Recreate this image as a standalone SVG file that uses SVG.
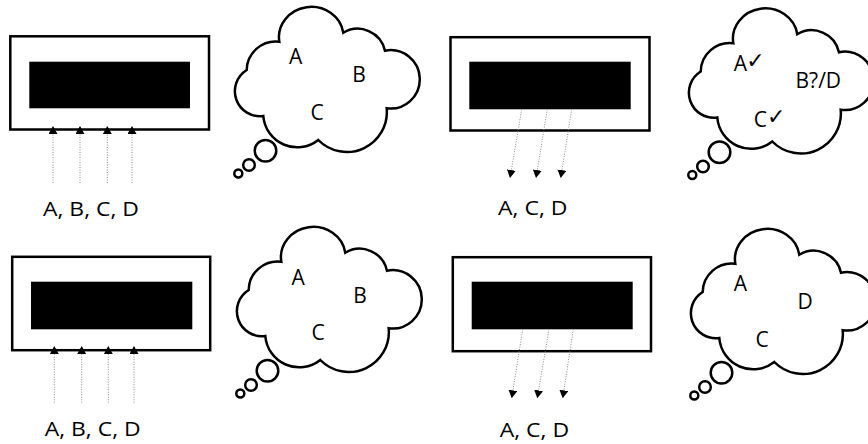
<svg xmlns="http://www.w3.org/2000/svg" xmlns:xlink="http://www.w3.org/1999/xlink" width="868" height="444" viewBox="0 0 868 444">
  <style>
    .frame { fill: #ffffff; stroke: #000000; stroke-width: 2.5; }
    .screen { fill: #000000; stroke: none; }
    .cloud { fill: #ffffff; stroke: #000000; stroke-width: 2.5; stroke-linejoin: miter; }
    .conn { fill: none; stroke: #8c8c8c; stroke-width: 1; stroke-dasharray: 1 1.5; marker-end: url(#ah); }
    .lbl { font-family: "Open Sans", "DejaVu Sans", sans-serif; font-size: 19.5px; fill: #000000; }
    .ct { font-family: "Open Sans", "DejaVu Sans", sans-serif; font-size: 21px; fill: #000000; }
    .chk { font-family: "DejaVu Sans", sans-serif; font-size: 22px; }
  </style>
  <defs>
    <marker id="ah" viewBox="0 0 8 9" refX="8" refY="4.5" markerWidth="8" markerHeight="9" markerUnits="userSpaceOnUse" orient="auto">
      <path d="M0,0 L8,4.5 L0,9 Z" fill="#000000"/>
    </marker>
    <g id="cloudShape">
      <path class="cloud" d="M279.3,41.7 A32,30 0 1 1 343.3,32.7 A28,28 0 0 1 385,50.7 A29.2,29.2 0 1 1 386.7,108.3 A40,40 0 0 1 318.3,140 A34,34 0 0 1 263.3,116 A25,25 0 0 1 246.7,70 A29,29 0 0 1 279.3,41.7 Z"/>
      <circle class="cloud" cx="265.5" cy="150.8" r="10.8"/>
      <circle class="cloud" cx="249" cy="165" r="5.8"/>
      <circle class="cloud" cx="238.3" cy="173.5" r="4"/>
    </g>
  </defs>
  <rect width="868" height="444" fill="#ffffff"/>

  <g id="box-tl">
    <rect class="frame" x="10.3" y="36.3" width="198.7" height="93.2"/>
    <rect class="screen" x="29.3" y="61.7" width="160.7" height="46.6"/>
  </g>
  <g id="cloud-tl">
    <use xlink:href="#cloudShape" href="#cloudShape"/>
    <text class="ct" x="289" y="64">A</text>
    <text class="ct" x="352.3" y="81.7">B</text>
    <text class="ct" x="310.5" y="120">C</text>
  </g>

  <g id="box-tr">
    <rect class="frame" x="450.5" y="37.2" width="199" height="93.3"/>
    <rect class="screen" x="469.3" y="61.7" width="161.4" height="47.6"/>
  </g>
  <g id="cloud-tr">
    <use xlink:href="#cloudShape" href="#cloudShape" transform="translate(454,1.5)"/>
    <text class="ct" x="733.7" y="70.7">A<tspan class="chk" x="746.3" y="67.5">✓</tspan></text>
    <text class="ct" x="795.5" y="88.3">B?/D</text>
    <text class="ct" x="753.8" y="127.3">C<tspan class="chk" x="767" y="124">✓</tspan></text>
  </g>

  <g id="box-bl">
    <rect class="frame" x="12.2" y="256.8" width="198" height="93.4"/>
    <rect class="screen" x="31" y="281.7" width="161.3" height="47.6"/>
  </g>
  <g id="cloud-bl">
    <use xlink:href="#cloudShape" href="#cloudShape" transform="translate(2,220)"/>
    <text class="ct" x="291.4" y="285">A</text>
    <text class="ct" x="353.3" y="302.7">B</text>
    <text class="ct" x="311.5" y="340">C</text>
  </g>

  <g id="box-br">
    <rect class="frame" x="452.8" y="257.2" width="198.2" height="94"/>
    <rect class="screen" x="471.7" y="281.7" width="161" height="47.6"/>
  </g>
  <g id="cloud-br">
    <use xlink:href="#cloudShape" href="#cloudShape" transform="translate(456,222)"/>
    <text class="ct" x="733.7" y="290.7">A</text>
    <text class="ct" x="797.5" y="309.3">D</text>
    <text class="ct" x="755.5" y="347.3">C</text>
  </g>

  <g id="connectors">
    <line class="conn" x1="53" y1="183" x2="53" y2="126"/>
    <line class="conn" x1="80" y1="183" x2="80" y2="126"/>
    <line class="conn" x1="107.3" y1="183" x2="107.3" y2="126"/>
    <line class="conn" x1="132" y1="183" x2="132" y2="126"/>

    <line class="conn" x1="521.7" y1="109.3" x2="510" y2="178"/>
    <line class="conn" x1="547.3" y1="109.3" x2="536" y2="178"/>
    <line class="conn" x1="571.7" y1="109.3" x2="560.7" y2="178"/>

    <line class="conn" x1="54.3" y1="402.7" x2="54.3" y2="346"/>
    <line class="conn" x1="81.7" y1="402.7" x2="81.7" y2="346"/>
    <line class="conn" x1="108.3" y1="402.7" x2="108.3" y2="346"/>
    <line class="conn" x1="134" y1="402.7" x2="134" y2="346"/>

    <line class="conn" x1="522.7" y1="329.3" x2="511.7" y2="398.3"/>
    <line class="conn" x1="549" y1="329.3" x2="537.3" y2="398.3"/>
    <line class="conn" x1="573.3" y1="329.3" x2="562.7" y2="398.3"/>
  </g>

  <g id="labels">
    <text class="lbl" x="43" y="216" textLength="96" lengthAdjust="spacingAndGlyphs">A, B, C, D</text>
    <text class="lbl" x="498" y="215" textLength="69.5" lengthAdjust="spacingAndGlyphs">A, C, D</text>
    <text class="lbl" x="44.7" y="436" textLength="96" lengthAdjust="spacingAndGlyphs">A, B, C, D</text>
    <text class="lbl" x="499.7" y="437" textLength="69.5" lengthAdjust="spacingAndGlyphs">A, C, D</text>
  </g>
</svg>
